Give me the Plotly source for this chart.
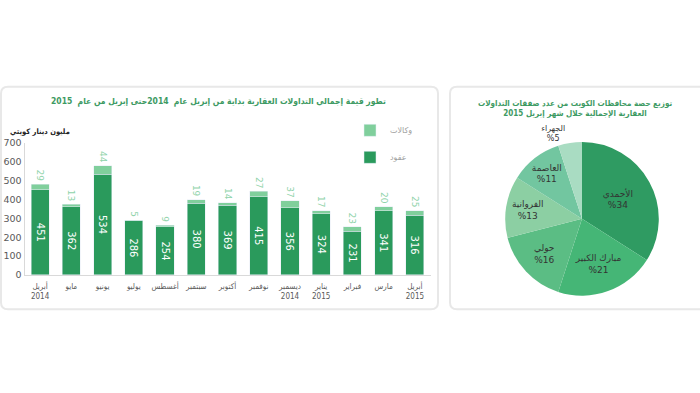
import plotly.graph_objects as go

# ---------------- data ----------------
months = ["أبريل<br>2014", "مايو", "يونيو", "يوليو", "أغسطس", "سبتمبر", "أكتوبر",
          "نوفمبر", "ديسمبر<br>2014", "يناير<br>2015", "فبراير", "مارس", "أبريل<br>2015"]
contracts = [451, 362, 534, 286, 254, 380, 369, 415, 356, 324, 231, 341, 316]   # عقود
agencies = [29, 13, 44, 5, 9, 19, 14, 27, 37, 17, 23, 20, 25]                    # وكالات
y_ticks = [0, 100, 200, 300, 400, 500, 600, 700]

governorates = ["الأحمدي", "مبارك الكبير", "حولي", "الفروانية", "العاصمة", "الجهراء"]
shares = [34, 21, 16, 13, 11, 5]

# ---------------- styles ----------------
W, H = 700, 393
DARK = "#2a9a5c"
LIGHT = "#80cf9c"
TITLE_C = "#3d9a63"
pie_colors = ["#2f9b62", "#45b676", "#5bbd84", "#8ccfa3", "#72c6a0", "#a9dcc2"]
FONT = "DejaVu Sans"
CFONT = "DejaVu Sans Condensed, DejaVu Sans"


def px_x(x):
    return x / W


def px_y(y):
    return 1 - y / H


def rounded_path(x0, y0, x1, y1, r=7):
    rx, ry = r / W, r / H
    X0, X1 = px_x(x0), px_x(x1)
    Y0, Y1 = px_y(y0), px_y(y1)
    return (f"M {X0+rx},{Y0} L {X1-rx},{Y0} Q {X1},{Y0} {X1},{Y0-ry} "
            f"L {X1},{Y1+ry} Q {X1},{Y1} {X1-rx},{Y1} "
            f"L {X0+rx},{Y1} Q {X0},{Y1} {X0},{Y1+ry} "
            f"L {X0},{Y0-ry} Q {X0},{Y0} {X0+rx},{Y0} Z")


fig = go.Figure()

fig.add_trace(go.Bar(
    x=months, y=contracts, name="عقود", marker_color=DARK,
    text=contracts, textposition="inside", insidetextanchor="middle",
    textangle=90, textfont=dict(color="white", size=10, family=FONT),
    legendgroup="b", legendrank=2,
))
fig.add_trace(go.Bar(
    x=months, y=agencies, name="وكالات", marker_color=LIGHT,
    text=agencies, textposition="outside", textangle=90,
    textfont=dict(color="#8fd3aa", size=9, family=FONT),
    legendgroup="a", legendrank=1, cliponaxis=False,
))

pie_cx, pie_cy, pie_r = 582, 219, 79
fig.add_trace(go.Pie(
    labels=governorates, values=shares, sort=False, direction="clockwise",
    rotation=0, marker=dict(colors=pie_colors, line=dict(color="white", width=0)),
    texttemplate="%{label}<br>%%{value}", textinfo="text",
    textposition=["inside", "inside", "inside", "inside", "inside", "outside"],
    insidetextorientation="horizontal",
    textfont=dict(size=9, color="#333333", family=FONT),
    outsidetextfont=dict(size=8, color="#333333", family=FONT),
    showlegend=False, hoverinfo="label+percent",
    domain=dict(x=[px_x(pie_cx - pie_r), px_x(pie_cx + pie_r)],
                y=[px_y(pie_cy + pie_r), px_y(pie_cy - pie_r)]),
))

fig.update_layout(
    width=W, height=H,
    margin=dict(l=0, r=0, t=0, b=0),
    paper_bgcolor="white", plot_bgcolor="white",
    barmode="stack", bargap=0.42,
    font=dict(family=FONT, size=10, color="#595959"),
    xaxis=dict(domain=[px_x(24.5), px_x(430.5)], showline=True, linecolor="#d9d9d9",
               linewidth=1, ticks="", showgrid=False, tickangle=0, ticklabelstandoff=3,
               tickfont=dict(size=8, color="#595959", family=CFONT)),
    yaxis=dict(domain=[px_y(276.7), px_y(140.7)], range=[0, 700], tickvals=y_ticks,
               showline=True, linecolor="#d9d9d9", linewidth=1, showgrid=False,
               zeroline=False, ticks="", tickfont=dict(size=9.5, color="#595959")),
    legend=dict(x=px_x(350), y=px_y(113), xanchor="left", yanchor="top",
                traceorder="grouped", tracegroupgap=8,
                font=dict(size=8, color="#a0a0a0"), bgcolor="rgba(0,0,0,0)",
                itemwidth=30),
    shapes=[
        dict(type="path", xref="paper", yref="paper", path=rounded_path(1, 83, 438, 312),
             line=dict(color="#e8e8e8", width=2), fillcolor="rgba(0,0,0,0)", layer="below"),
        dict(type="path", xref="paper", yref="paper", path=rounded_path(450, 83, 708, 312),
             line=dict(color="#e8e8e8", width=2), fillcolor="rgba(0,0,0,0)", layer="below"),
    ],
    annotations=[
        dict(text="<b>تطور قيمة إجمالي التداولات العقارية بداية من إبريل عام  2014حتى إبريل من عام  2015</b>",
             x=px_x(218), y=px_y(98), xref="paper", yref="paper", showarrow=False,
             xanchor="center", yanchor="middle",
             font=dict(size=8.5, color=TITLE_C, family=CFONT)),
        dict(text="<b>مليون دينار كويتي</b>", x=px_x(40), y=px_y(129), xref="paper", yref="paper",
             showarrow=False, xanchor="center", yanchor="middle",
             font=dict(size=7.5, color="#222222", family=CFONT)),
        dict(text="<b>توزيع حصة محافظات الكويت من عدد صفقات التداولات<br>العقارية الإجمالية خلال شهر إبريل 2015</b>",
             x=px_x(575), y=px_y(105), xref="paper", yref="paper", showarrow=False,
             xanchor="center", yanchor="middle",
             font=dict(size=8, color=TITLE_C, family=CFONT)),
    ],
)

fig.write_html("out.html", post_script="document.body.style.margin='0';",
               config={"displayModeBar": False})
